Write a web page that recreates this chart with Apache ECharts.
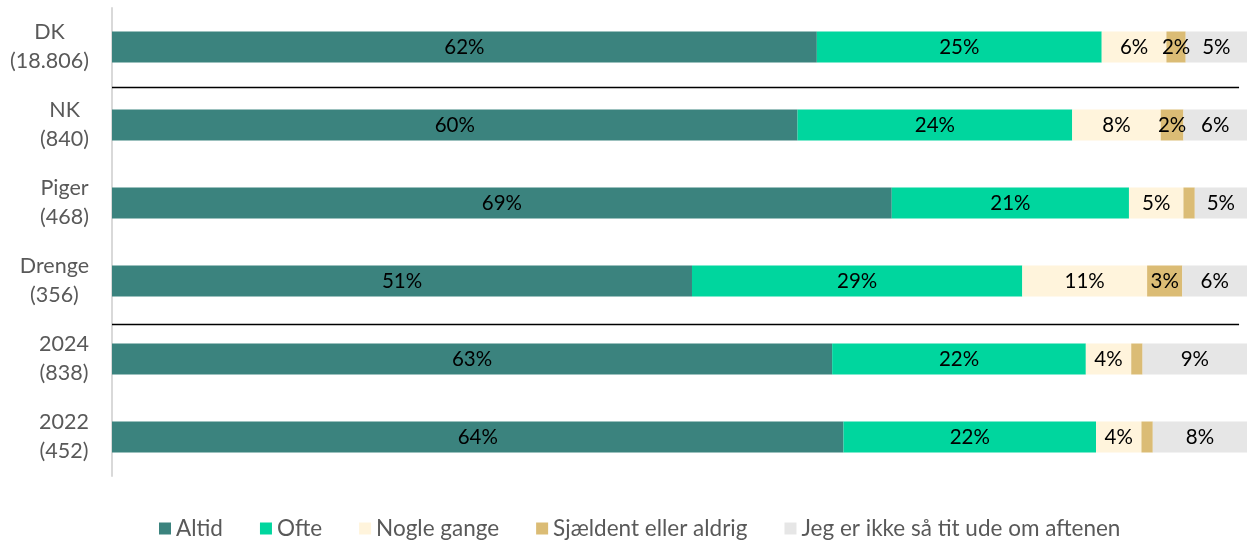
<!DOCTYPE html>
<html>
<head>
<meta charset="utf-8">
<script src="https://cdn.jsdelivr.net/npm/echarts@6/dist/echarts.min.js"></script>
<style>
html,body{margin:0;padding:0;background:#fff;}
#chart{width:1250px;height:540px;}
</style>
</head>
<body>
<div id="chart"></div>
<script>
const categories = ['DK\n(18.806)', 'NK\n(840)', 'Piger\n(468)', 'Drenge\n(356)', '2024\n(838)', '2022\n(452)'];
const seriesNames = ['Altid', 'Ofte', 'Nogle gange', 'Sjældent eller aldrig', 'Jeg er ikke så tit ude om aftenen'];
const altid = [62.1, 60.4, 68.7, 51.1, 63.45, 64.45];
const ofte = [25.1, 24.2, 20.9, 29.1, 22.35, 22.25];
const nogle = [5.7, 7.8, 4.8, 11.0, 4.0, 4.0];
const sjaeldent = [1.7, 2.0, 1.0, 3.1, 1.0, 1.0];
const ikkeUde = [5.4, 5.6, 4.6, 5.7, 9.2, 8.3];
const separatorAfter = [1.01, 4.06]; // group separators, in category-band units from the top

const colors = ['#3B837E', '#00D69E', '#FFF4DC', '#DBBC75', '#E6E6E6'];
const FONT = 'Lato, "Noto Sans", sans-serif';
const values = [altid, ofte, nogle, sjaeldent, ikkeUde];

const barSeries = values.map((arr, i) => ({
  name: seriesNames[i],
  type: 'bar',
  stack: 'total',
  barWidth: 31,
  data: arr,
  itemStyle: { color: colors[i] },
  label: {
    show: true,
    position: 'inside',
    color: '#000',
    fontFamily: FONT,
    fontSize: 20.5,
    formatter: p => (p.value < 1.5 ? '' : Math.round(p.value) + '%')
  },
  emphasis: { disabled: true }
}));

const sepSeries = {
  type: 'line',
  xAxisIndex: 0,
  yAxisIndex: 1,
  data: [],
  silent: true,
  markLine: {
    symbol: 'none',
    silent: true,
    label: { show: false },
    lineStyle: { color: '#000', width: 1.3, type: 'solid' },
    data: separatorAfter.map(v => [{ coord: [0, v] }, { coord: [99.3, v] }])
  }
};

const chart = echarts.init(document.getElementById('chart'));
chart.setOption({
  animation: false,
  backgroundColor: '#fff',
  grid: { left: 112, right: 3, top: 8, bottom: 64, containLabel: false },
  xAxis: { type: 'value', min: 0, max: 100, show: false },
  yAxis: [
    {
      type: 'category',
      data: categories,
      inverse: true,
      axisLine: { show: true, lineStyle: { color: '#D9D9D9', width: 2 } },
      axisTick: { show: false },
      splitLine: { show: false },
      axisLabel: {
        margin: 23,
        align: 'right',
        color: '#595959',
        fontFamily: FONT,
        fontSize: 21.5,
        lineHeight: 29,
        formatter: v => v.split('\n').map(s => '{c|' + s + '}').join('\n'),
        rich: { c: { align: 'center', color: '#595959', fontFamily: FONT, fontSize: 21.5, lineHeight: 29 } }
      }
    },
    { type: 'value', min: 0, max: 6, inverse: true, show: false }
  ],
  legend: {
    left: 154,
    top: 512,
    icon: 'rect',
    itemWidth: 12,
    itemHeight: 12,
    itemGap: 37,
    textStyle: { color: '#595959', fontFamily: FONT, fontSize: 22.5 },
    data: seriesNames
  },
  series: [...barSeries, sepSeries]
});
</script>
</body>
</html>
